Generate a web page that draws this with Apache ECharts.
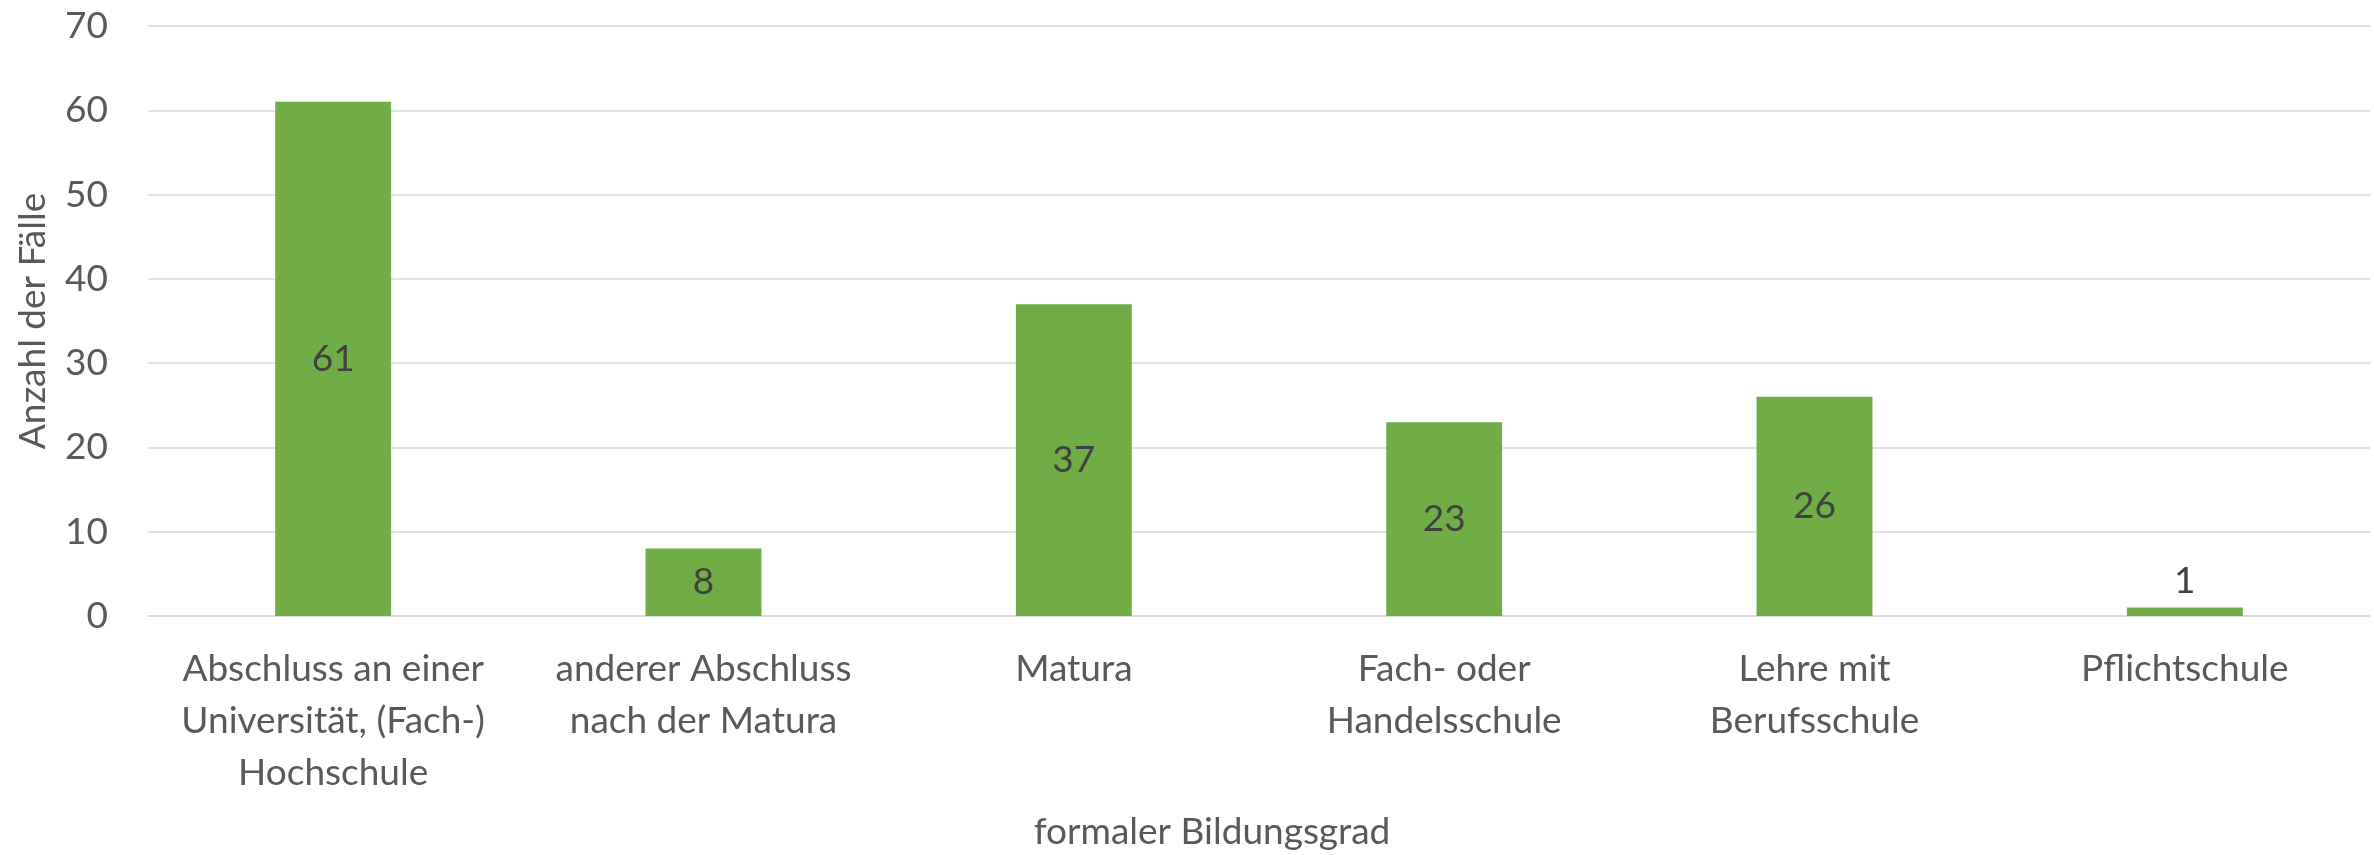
<!DOCTYPE html>
<html>
<head>
<meta charset="utf-8">
<script src="https://cdn.jsdelivr.net/npm/echarts@6/dist/echarts.min.js"></script>
<style>
  html, body { margin: 0; padding: 0; background: #fff; }
  #chart-container { width: 2374px; height: 855px; }
</style>
</head>
<body>
<div id="chart-container"></div>
<script>
// Daten
const kategorien = [
  'Abschluss an einer\nUniversität, (Fach-)\nHochschule',
  'anderer Abschluss\nnach der Matura',
  'Matura',
  'Fach- oder\nHandelsschule',
  'Lehre mit\nBerufsschule',
  'Pflichtschule'
];
const anzahl = [61, 8, 37, 23, 26, 1];
const yTicks = { min: 0, max: 70, interval: 10 };

const schrift = 'Lato, "Open Sans", sans-serif';

let myChart = echarts.init(document.getElementById('chart-container'), null, {
  renderer: 'canvas'
});

const opciones = {
  animation: false,
  grid: { left: 148, right: 4, top: 26, bottom: 239, containLabel: false },
  xAxis: {
    type: 'category',
    data: kategorien,
    axisLine: { show: true, lineStyle: { color: '#d9d9d9', width: 1.5 } },
    axisTick: { show: false },
    axisLabel: {
      color: '#595959',
      fontFamily: schrift,
      fontSize: 37,
      lineHeight: 52,
      margin: 27,
      interval: 0,
      align: 'center'
    }
  },
  yAxis: {
    type: 'value',
    min: yTicks.min,
    max: yTicks.max,
    interval: yTicks.interval,
    name: 'Anzahl der Fälle',
    nameLocation: 'middle',
    nameGap: 96,
    nameTextStyle: { color: '#595959', fontFamily: schrift, fontSize: 37 },
    axisLine: { show: false },
    axisTick: { show: false },
    splitLine: { lineStyle: { color: '#d9d9d9', width: 1.5 } },
    axisLabel: { color: '#595959', fontFamily: schrift, fontSize: 37, margin: 40 }
  },
  graphic: [{
    type: 'text',
    x: 1212,
    y: 832,
    style: {
      text: 'formaler Bildungsgrad',
      fill: '#595959',
      font: '37px ' + schrift,
      textAlign: 'center',
      textVerticalAlign: 'middle'
    }
  }],
  series: [{
    type: 'bar',
    data: anzahl.map((v, i) => ({
      value: v,
      label: { position: v < 3 ? 'top' : 'inside', distance: 8 }
    })),
    barWidth: '31.3%',
    itemStyle: { color: '#70ad47' },
    label: {
      show: true,
      color: '#404040',
      fontFamily: schrift,
      fontSize: 37
    }
  }]
};

myChart.setOption(opciones);
window.addEventListener('resize', myChart.resize);
</script>
</body>
</html>
